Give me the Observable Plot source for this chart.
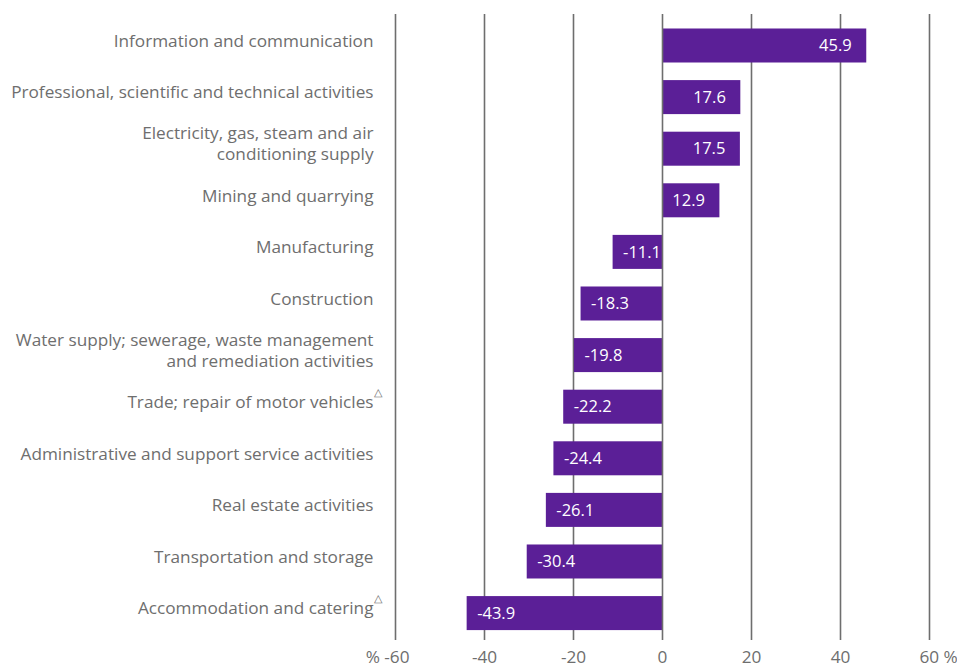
<!DOCTYPE html>
<html><head><meta charset="utf-8">
<script src="https://cdn.jsdelivr.net/npm/d3@7"></script>
<script src="https://cdn.jsdelivr.net/npm/@observablehq/plot@0.6"></script>
<style>body{margin:0;background:#fff;}</style>
</head><body><div id="chart"></div>
<script>
const categories = [
  "Information and communication",
  "Professional, scientific and technical activities",
  "Electricity, gas, steam and air\nconditioning supply",
  "Mining and quarrying",
  "Manufacturing",
  "Construction",
  "Water supply; sewerage, waste management\nand remediation activities",
  "Trade; repair of motor vehicles",
  "Administrative and support service activities",
  "Real estate activities",
  "Transportation and storage",
  "Accommodation and catering"
];
const values = [45.9, 17.6, 17.5, 12.9, -11.1, -18.3, -19.8, -22.2, -24.4, -26.1, -30.4, -43.9];
const flagged = ["Trade; repair of motor vehicles", "Accommodation and catering"];
const xTicks = [-60, -40, -20, 0, 20, 40, 60];
const tickLabels = ["% -60", "-40", "-20", "0", "20", "40", "60 %"];

const data = categories.map((c, i) => ({category: c, value: values[i]}));
const ticks = xTicks.map((t, i) => ({t, label: tickLabels[i]}));
const midTicks = ticks.slice(1, -1);
const barColor = "#5b1f97";
const grey = "#6e6e6e";
const font = "Open Sans";
const fs = 17.2;

const chart = Plot.plot({
  width: 957,
  height: 669,
  marginLeft: 395,
  marginRight: 28,
  marginTop: 14,
  marginBottom: 29,
  style: {fontFamily: font, background: "#fff"},
  x: {domain: [-60, 60], axis: null},
  y: {domain: categories, axis: null, paddingInner: 0.341, paddingOuter: 0.2365, align: 0.594, round: false},
  marks: [
    Plot.ruleX(xTicks.filter(t => t !== 0), {stroke: grey, strokeWidth: 1.6}),
    Plot.barX(data, {x: "value", y: "category", fill: barColor}),
    Plot.ruleX([0], {stroke: grey, strokeWidth: 1.6}),
    Plot.text(data.filter(d => d.value > 0), {x: "value", y: "category", text: d => d.value.toFixed(1), textAnchor: "end", dx: -15, fill: "white", fontSize: 16.5}),
    Plot.text(data.filter(d => d.value < 0), {x: "value", y: "category", text: d => d.value.toFixed(1), textAnchor: "start", dx: 10, fill: "white", fontSize: 16.5}),
    Plot.text(data, {y: "category", text: "category", frameAnchor: "left", textAnchor: "end", dx: -22, dy: -6, fill: grey, fontSize: fs, lineHeight: 1.22}),
    Plot.text(data.filter(d => flagged.includes(d.category)), {y: "category", text: () => "△", frameAnchor: "left", textAnchor: "start", dx: -22, dy: -15, fill: grey, fontSize: 11}),
    Plot.text(midTicks, {x: "t", text: "label", frameAnchor: "bottom", dy: 22, fill: grey, fontSize: fs}),
    Plot.text(ticks.slice(0, 1), {x: "t", text: "label", frameAnchor: "bottom", dy: 22, textAnchor: "end", dx: 14, fill: grey, fontSize: fs}),
    Plot.text(ticks.slice(-1), {x: "t", text: "label", frameAnchor: "bottom", dy: 22, textAnchor: "start", dx: -10, fill: grey, fontSize: fs})
  ]
});
document.getElementById("chart").appendChild(chart);
</script>
</body></html>
